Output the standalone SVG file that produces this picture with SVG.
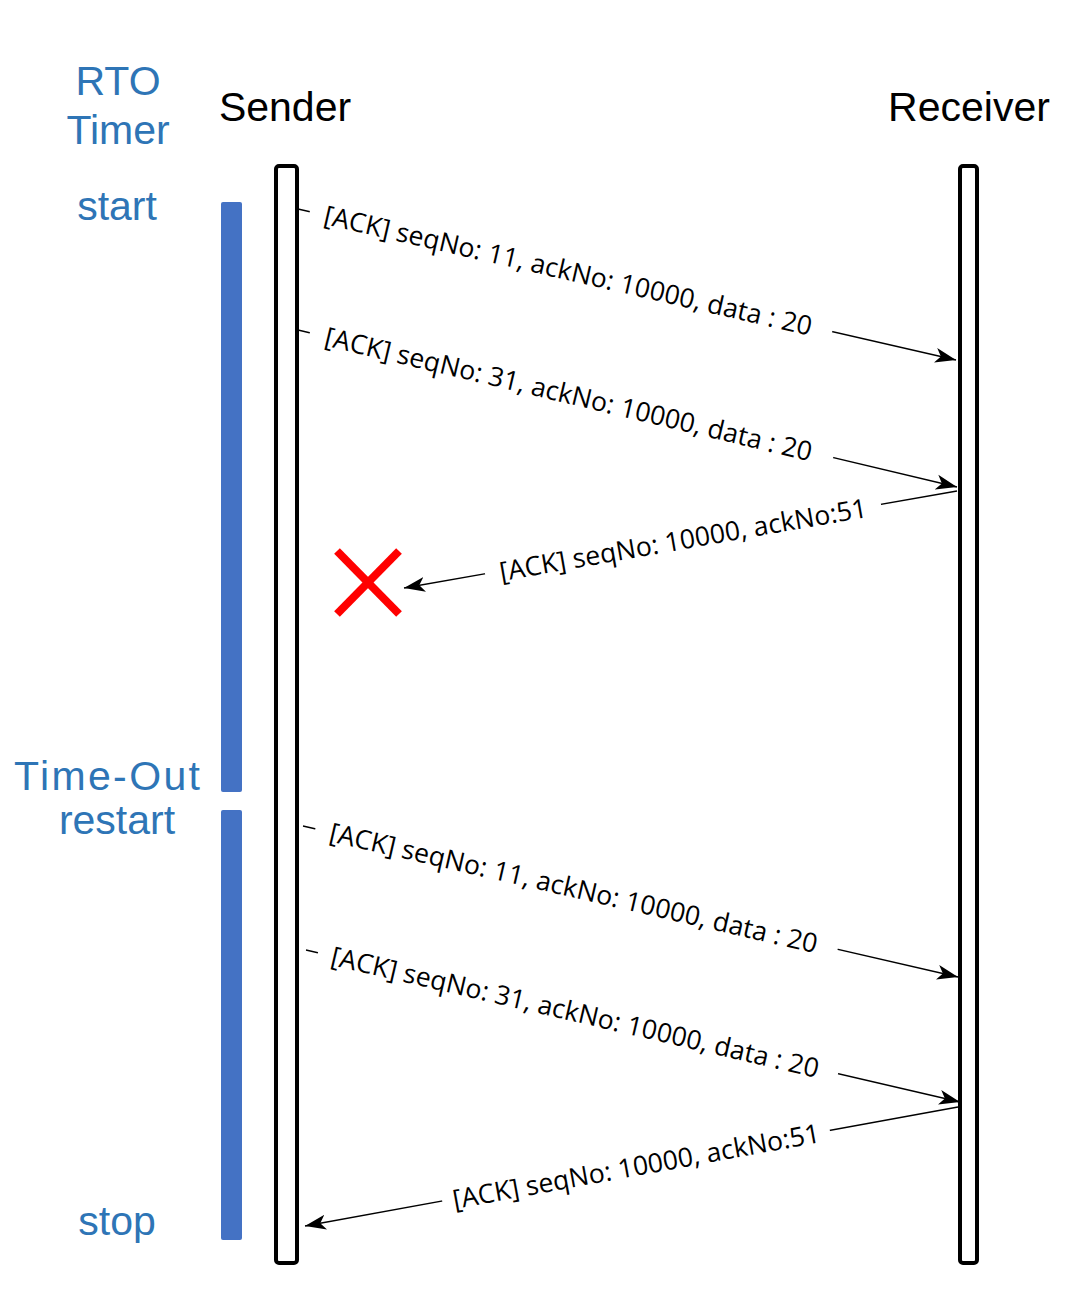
<svg xmlns="http://www.w3.org/2000/svg" width="1080" height="1316" viewBox="0 0 1080 1316">
<style>
.hdr{font-family:"Liberation Sans",Arial,sans-serif;font-size:41px;fill:#000;text-anchor:middle}
.blue{font-family:"Liberation Sans",Arial,sans-serif;font-size:41px;fill:#2E75B6;text-anchor:middle}
.life{fill:#fff;stroke:#000;stroke-width:4}
.bar{fill:#4472C4}
.msg{fill:none;stroke:#000;stroke-width:1.3;marker-end:url(#arr)}
.lbl{font-family:"Open Sans","Noto Sans",sans-serif;font-size:26.6px;fill:#000;text-anchor:middle}
.bg{fill:#fff}
.x{stroke:#FF0000;stroke-width:8;fill:none}
</style>
<defs>
<marker id="arr" markerUnits="userSpaceOnUse" markerWidth="22" markerHeight="18" refX="21" refY="9" orient="auto">
<path d="M0,1.5 L21,9 L0,16.5 L5.5,9 z" fill="#000"/>
</marker>
</defs>
<rect width="1080" height="1316" fill="#fff"/>

<g id="rto-labels">
<text class="blue" x="118" y="95">RTO</text>
<text class="blue" x="118" y="144">Timer</text>
<text class="blue" x="117" y="220">start</text>
<text class="blue" x="107" y="790" textLength="186" lengthAdjust="spacing">Time-Out</text>
<text class="blue" x="117" y="834">restart</text>
<text class="blue" x="117" y="1235">stop</text>
</g>

<g id="rto-bar-1"><rect class="bar" x="221" y="202" width="21" height="590" rx="2"/></g>
<g id="rto-bar-2"><rect class="bar" x="221" y="810" width="21" height="430" rx="2"/></g>

<g id="sender">
<text class="hdr" x="285" y="121">Sender</text>
<rect class="life" x="276" y="166" width="21" height="1097" rx="3"/>
</g>
<g id="receiver">
<text class="hdr" x="969" y="121">Receiver</text>
<rect class="life" x="960" y="166" width="17" height="1097" rx="3"/>
</g>

<g id="lost-mark">
<line class="x" x1="337" y1="551" x2="399" y2="614"/>
<line class="x" x1="399" y1="551" x2="337" y2="614"/>
</g>

<g id="connectors">
<path class="msg" d="M298,209 L956,360"/>
<g transform="translate(571,271.7) rotate(12.94)"><rect class="bg" x="-268" y="-16" width="536" height="34"/><text class="lbl" x="-3" y="9">[ACK] seqNo: 11, ackNo: 10000, data : 20</text></g>

<path class="msg" d="M298,330 L957,487"/>
<g transform="translate(571.5,395.2) rotate(13.40)"><rect class="bg" x="-269" y="-16" width="538" height="34"/><text class="lbl" x="-3" y="9">[ACK] seqNo: 31, ackNo: 10000, data : 20</text></g>

<path class="msg" d="M957,491 L404,588"/>
<g transform="translate(683,539.1) rotate(-9.95)"><rect class="bg" x="-201" y="-16" width="402" height="34"/><text class="lbl" x="0" y="10">[ACK] seqNo: 10000, ackNo:51</text></g>

<path class="msg" d="M303,826 L958,977"/>
<g transform="translate(576.5,889) rotate(12.98)"><rect class="bg" x="-268" y="-16" width="536" height="34"/><text class="lbl" x="-3" y="9">[ACK] seqNo: 11, ackNo: 10000, data : 20</text></g>

<path class="msg" d="M306,950 L960,1102"/>
<g transform="translate(578,1013.2) rotate(13.08)"><rect class="bg" x="-267" y="-16" width="534" height="34"/><text class="lbl" x="-3" y="9">[ACK] seqNo: 31, ackNo: 10000, data : 20</text></g>

<path class="msg" d="M958,1107 L305,1226"/>
<g transform="translate(636,1165.7) rotate(-10.33)"><rect class="bg" x="-197" y="-16" width="394" height="34"/><text class="lbl" x="0" y="10">[ACK] seqNo: 10000, ackNo:51</text></g>
</g>
</svg>
